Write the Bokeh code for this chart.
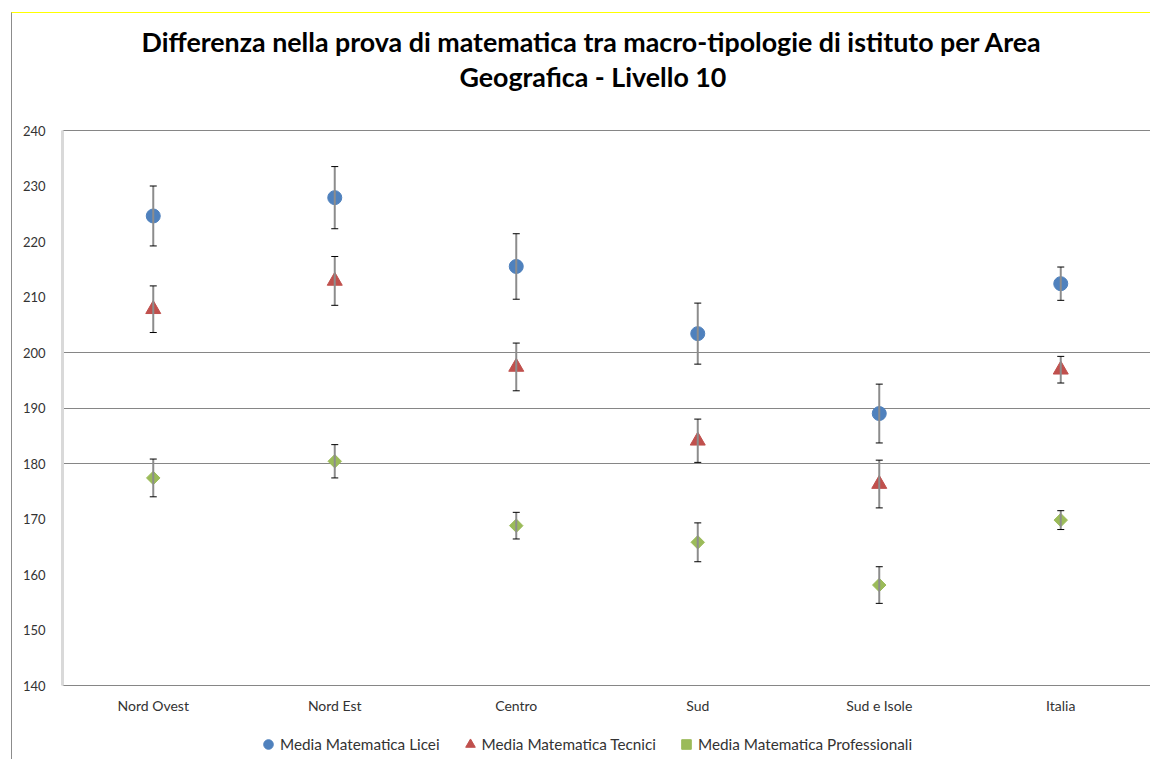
import math
from bokeh.plotting import figure
from bokeh.models import (ColumnDataSource, Whisker, TeeHead, Legend, LegendItem,
                          Title, FixedTicker)
from bokeh.embed import file_html
from bokeh.resources import INLINE

categories = ["Nord Ovest", "Nord Est", "Centro", "Sud", "Sud e Isole", "Italia"]
licei = [224.6, 227.9, 215.5, 203.4, 189.0, 212.4]
licei_err = [5.4, 5.6, 5.9, 5.5, 5.3, 3.0]
tecnici = [207.8, 212.9, 197.4, 184.1, 176.3, 196.9]
tecnici_err = [4.2, 4.4, 4.3, 3.9, 4.3, 2.4]
prof = [177.4, 180.4, 168.8, 165.8, 158.1, 169.8]
prof_err = [3.4, 3.0, 2.4, 3.5, 3.3, 1.7]
y_ticks = list(range(140, 241, 10))
grid_ticks = [180, 190, 200, 240]
series_names = ["Media Matematica Licei", "Media Matematica Tecnici",
                "Media Matematica Professionali"]
title_lines = ["Differenza nella prova di matematica tra macro-tipologie di istituto per Area",
               "Geografica - Livello 10"]

FONT = "Lato"
TXT = "#333333"

# plot frame runs to the bottom of the canvas; the value axis covers 140-240
Y_MIN, Y_MAX = 140, 240
AXIS_H = 555.0
PX = (Y_MAX - Y_MIN) / AXIS_H          # data units per pixel
y_start = Y_MIN - 75 * PX
y_end = Y_MAX + 1 * PX

p = figure(x_range=categories, y_range=(y_start, y_end), width=1139, height=747,
           output_backend="svg", toolbar_location=None,
           min_border_left=50, min_border_right=0, min_border_top=116,
           min_border_bottom=0)
p.styles = {"margin-left": "11px", "margin-top": "12px",
            "border-left": "1px solid #8C8C8C", "border-top": "1px solid #FFFF00"}

p.outline_line_color = None
p.xgrid.grid_line_color = None
p.ygrid.ticker = FixedTicker(ticks=grid_ticks)
p.ygrid.grid_line_color = "#868686"
p.ygrid.grid_line_width = 1

p.yaxis.ticker = FixedTicker(ticks=y_ticks)
p.yaxis.bounds = (Y_MIN, Y_MAX)
p.yaxis.axis_line_color = "#D9D9D9"
p.yaxis.axis_line_width = 3
p.yaxis.major_tick_line_color = None
p.yaxis.minor_tick_line_color = None
p.yaxis.major_label_standoff = 11
p.yaxis.major_label_text_font = FONT
p.yaxis.major_label_text_font_size = "13px"
p.yaxis.major_label_text_color = TXT

p.xaxis.fixed_location = Y_MIN
p.xaxis.axis_line_color = "#868686"
p.xaxis.major_tick_line_color = None
p.xaxis.minor_tick_line_color = None
p.xaxis.major_label_standoff = 5
p.xaxis.major_label_text_font = FONT
p.xaxis.major_label_text_font_size = "14px"
p.xaxis.major_label_text_color = TXT

colors = ["#4F81BD", "#C0504D", "#9BBB59"]
for vals, errs in [(licei, licei_err), (tecnici, tecnici_err), (prof, prof_err)]:
    src = ColumnDataSource(dict(x=categories,
                                lo=[v - e for v, e in zip(vals, errs)],
                                hi=[v + e for v, e in zip(vals, errs)]))
    w = Whisker(base="x", lower="lo", upper="hi", source=src,
                line_color="#8C8C8C", line_width=2,
                upper_head=TeeHead(size=7, line_color="black", line_width=1),
                lower_head=TeeHead(size=7, line_color="black", line_width=1),
                level="glyph")
    p.add_layout(w)

r1 = p.scatter(x=categories, y=licei, marker="circle", size=14, color=colors[0])
r2 = p.scatter(x=categories, y=tecnici, marker="triangle", size=15, color=colors[1])
r3 = p.scatter(x=categories, y=prof, marker="square", angle=math.pi / 4, size=9.5,
               color=colors[2])

legend = Legend(items=[LegendItem(label=series_names[0], renderers=[r1]),
                       LegendItem(label=series_names[1], renderers=[r2]),
                       LegendItem(label=series_names[2], renderers=[r3])],
                orientation="horizontal", location=(194, 4),
                border_line_color=None, background_fill_alpha=0,
                label_text_font=FONT, label_text_font_size="15.3px",
                label_text_color=TXT, glyph_width=24, glyph_height=24,
                spacing=18, label_standoff=-4, margin=0, padding=4)
p.add_layout(legend)

spacer = Title(text=" ", text_font_size="10px", standoff=22.5)
p.add_layout(spacer, "above")
t2 = Title(text=title_lines[1], align="left", text_font=FONT,
           text_font_size="26.8px", text_font_style="bold", text_color="black",
           offset=397, standoff=1)
p.add_layout(t2, "above")
t1 = Title(text=title_lines[0], align="left", text_font=FONT,
           text_font_size="26.8px", text_font_style="bold", text_color="black",
           offset=79, standoff=1)
p.add_layout(t1, "above")

open("out.html", "w").write(file_html(p, INLINE))
